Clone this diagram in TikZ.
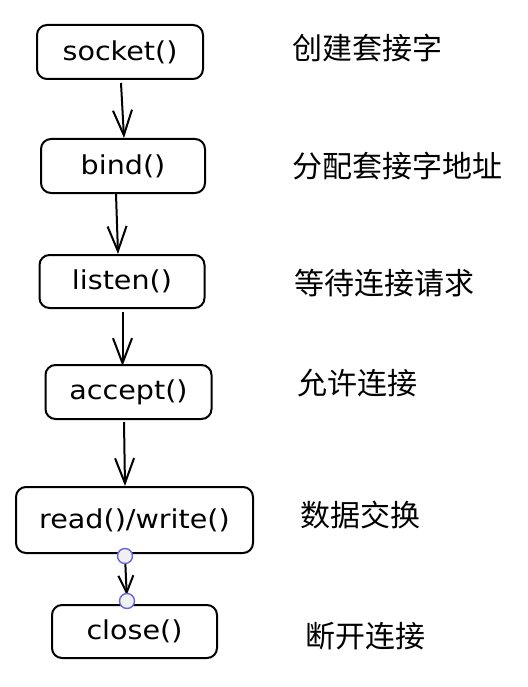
\documentclass[tikz,border=0pt]{standalone}
\usepackage{fontspec}
\setmainfont{DejaVu Sans}
\newfontfamily\cjk{Noto Sans CJK SC}
\usetikzlibrary{arrows.meta}
\definecolor{handlec}{RGB}{105,101,219}
\begin{document}
\begin{tikzpicture}[x=1pt,y=-1pt,
  box/.style={draw,line width=2pt,rounded corners=10pt,inner sep=0pt,
    font=\fontsize{26}{30}\selectfont},
  flow/.style={line width=2pt,-{Straight Barb[length=25pt,width=19pt]}},
  smallflow/.style={line width=2pt,-{Straight Barb[length=17pt,width=15pt]},shorten >=6pt},
  lab/.style={anchor=west,inner sep=0pt,font=\cjk\fontsize{30}{33}\selectfont},
  handle/.style={circle,draw=handlec,fill=gray!12,line width=1.4pt,minimum size=15pt,inner sep=0pt}]
\useasboundingbox (0,0) rectangle (527,687);
\fill[white] (0,0) rectangle (527,687);

\node[box,minimum width=166pt,minimum height=54pt] (socket) at (120,52) {\scalebox{1.1}[1]{socket()}};
\node[box,minimum width=164pt,minimum height=54pt] (bind) at (123,166) {\scalebox{1.1}[1]{bind()}};
\node[box,minimum width=165pt,minimum height=53pt] (listen) at (122,281.5) {\scalebox{1.1}[1]{listen()}};
\node[box,minimum width=166pt,minimum height=54pt] (accept) at (128.5,392) {\scalebox{1.1}[1]{accept()}};
\node[box,minimum width=237pt,minimum height=66pt] (rw) at (134.5,520) {\scalebox{1.1}[1]{read()/write()}};
\node[box,minimum width=165pt,minimum height=53pt] (close) at (134.5,631.5) {\scalebox{1.1}[1]{close()}};

\draw[flow] ([shift={(1,3)}]socket.south) -- ([shift={(1,0)}]bind.north);
\draw[flow] ([shift={(-7,0)}]bind.south) -- ([shift={(-4,0)}]listen.north);
\draw[flow] ([shift={(0.5,3)}]listen.south) -- ([shift={(-6,2)}]accept.north);
\draw[flow] ([shift={(-4.5,2)}]accept.south) -- ([shift={(-9.5,0)}]rw.north);

\coordinate (p1) at ([shift={(-9.5,2)}]rw.south);
\coordinate (p2) at ([shift={(-7.5,-3)}]close.north);
\draw[smallflow] (p1) -- (p2);
\node[handle] (h1) at (p1) {};
\node[handle] (h2) at (p2) {};

\node[lab] (l1) at (292,48) {创建套接字};
\node[lab] (l2) at (292,166) {分配套接字地址};
\node[lab] (l3) at (294,283) {等待连接请求};
\node[lab] (l4) at (297,383) {允许连接};
\node[lab] (l5) at (300,515) {数据交换};
\node[lab] (l6) at (305,636) {断开连接};
\end{tikzpicture}
\end{document}
